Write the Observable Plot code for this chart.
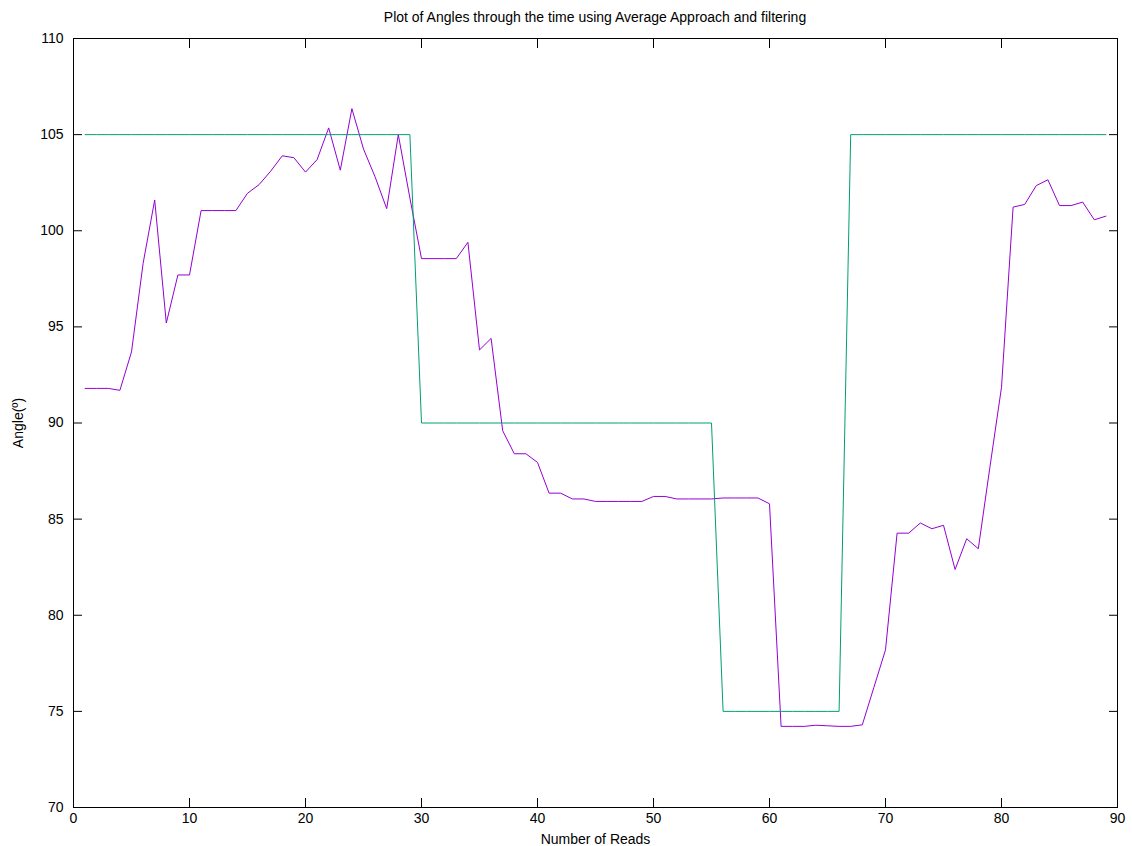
<!DOCTYPE html>
<html><head><meta charset="utf-8">
<script src="https://cdn.jsdelivr.net/npm/d3@7"></script>
<script src="https://cdn.jsdelivr.net/npm/@observablehq/plot@0.6"></script>
<style>
body{margin:0;background:#fff;font-family:"Liberation Sans",Arial,sans-serif;}
#title{height:24px;line-height:34px;font-size:14px;text-align:center;padding:0 15px 0 73px;width:1044px;color:#000;overflow:visible;}
#chart svg{display:block;}
</style></head><body>
<div id="title">Plot of Angles through the time using Average Approach and filtering</div>
<div id="chart"></div>
<script>
const reads = [1,2,3,4,5,6,7,8,9,10,11,12,13,14,15,16,17,18,19,20,21,22,23,24,25,26,27,28,29,30,31,32,33,34,35,36,37,38,39,40,41,42,43,44,45,46,47,48,49,50,51,52,53,54,55,56,57,58,59,60,61,62,63,64,65,66,67,68,69,70,71,72,73,74,75,76,77,78,79,80,81,82,83,84,85,86,87,88,89];
const angleAverage = [91.8,91.8,91.8,91.7,93.7,98.3,101.6,95.2,97.7,97.7,
  101.05,101.05,101.05,101.05,101.95,102.4,103.1,103.9,103.8,103.05,
  103.7,105.35,103.15,106.35,104.25,102.8,101.15,105.0,101.7,98.55,
  98.55,98.55,98.55,99.4,93.8,94.4,89.6,88.4,88.4,87.95,
  86.35,86.35,86.05,86.05,85.92,85.92,85.92,85.92,85.92,86.18,
  86.18,86.05,86.05,86.05,86.05,86.1,86.1,86.1,86.1,85.8,
  74.22,74.22,74.22,74.28,74.25,74.22,74.22,74.3,76.25,78.2,
  84.27,84.27,84.8,84.5,84.68,82.38,83.98,83.46,87.7,91.86,
  101.23,101.37,102.35,102.65,101.31,101.31,101.49,100.57,100.76];
const angleFiltered = [105,105,105,105,105,105,105,105,105,105,
  105,105,105,105,105,105,105,105,105,105,
  105,105,105,105,105,105,105,105,105,90,
  90,90,90,90,90,90,90,90,90,90,
  90,90,90,90,90,90,90,90,90,90,
  90,90,90,90,90,75,75,75,75,75,
  75,75,75,75,75,75,105,105,105,105,
  105,105,105,105,105,105,105,105,105,105,
  105,105,105,105,105,105,105,105,105];
const xTicks = [0,10,20,30,40,50,60,70,80,90];
const yTicks = [70,75,80,85,90,95,100,105,110];
const xLabel = "Number of Reads";
const yLabel = "Angle(º)";

const rows = reads.map((r,i)=>({read:r, average:angleAverage[i], filtered:angleFiltered[i]}));

const chart = Plot.plot({
  width:1132, height:822,
  marginTop:14, marginLeft:73, marginRight:15, marginBottom:39,
  style:{fontFamily:"Liberation Sans, Arial, sans-serif", fontSize:"14px", color:"#000", background:"#fff"},
  x:{domain:[0,90]},
  y:{domain:[70,110]},
  marks:[
    Plot.axisX(xTicks,{anchor:"bottom", tickSize:-9, tickPadding:15, label:xLabel, labelAnchor:"center", labelOffset:36, labelArrow:"none"}),
    Plot.axisX(xTicks,{anchor:"top", tickSize:-9, tickFormat:()=>"", label:null}),
    Plot.axisY(yTicks,{anchor:"left", tickSize:-9, tickPadding:19, label:yLabel, labelAnchor:"center", labelOffset:60, labelArrow:"none"}),
    Plot.axisY(yTicks,{anchor:"right", tickSize:-9, tickFormat:()=>"", label:null}),
    Plot.line(rows,{x:"read", y:"average", stroke:"#9400d3", strokeWidth:1}),
    Plot.line(rows,{x:"read", y:"filtered", stroke:"#009e73", strokeWidth:1}),
    Plot.frame({stroke:"#000"})
  ]
});
document.getElementById("chart").appendChild(chart);
</script>
</body></html>
